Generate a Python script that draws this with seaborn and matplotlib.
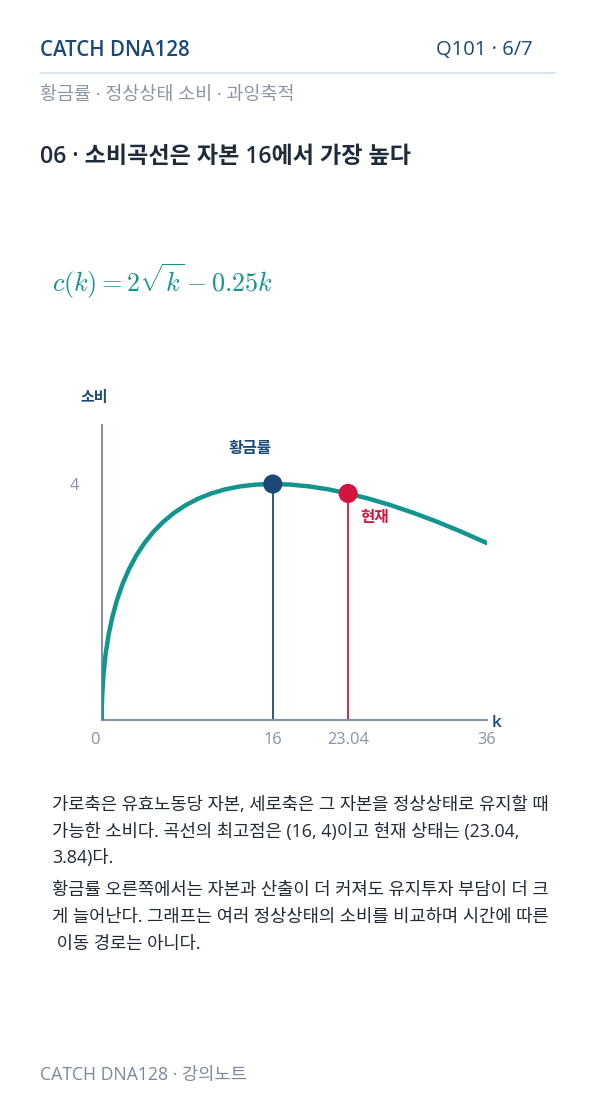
import matplotlib
matplotlib.use("Agg")
import matplotlib.pyplot as plt
import matplotlib.transforms as mtransforms
import seaborn as sns
import pandas as pd

# ---- data ----
k_vals = [0, 0.01, 0.04, 0.16, 0.36, 0.64, 1.0, 1.44, 1.96, 2.56, 3.24, 4.0, 4.84, 5.76,
          6.76, 7.84, 9.0, 10.24, 11.56, 12.96, 14.44, 16.0, 17.64, 19.36, 21.16,
          23.04, 25.0, 27.04, 29.16, 31.36, 33.64, 36.0]
c_vals = [0, 0.1975, 0.39, 0.76, 1.11, 1.44, 1.75, 2.04, 2.31, 2.56, 2.79, 3.0, 3.19, 3.36,
          3.51, 3.64, 3.75, 3.84, 3.91, 3.96, 3.99, 4.0, 3.99, 3.96, 3.91,
          3.84, 3.75, 3.64, 3.51, 3.36, 3.19, 3.0]
point_names = ["황금률", "현재"]
point_k = [16, 23.04]
point_c = [4.0, 3.84]
x_ticks = [0, 16, 23.04, 36]
x_tick_labels = ["0", "16", "23.04", "36"]
y_ticks = [4]
y_tick_labels = ["4"]

NAVY = "#1c4a78"
RED = "#d3163f"
TEAL = "#12948f"
AXIS = "#8592a2"
GRAY = "#8593a3"

sns.set_theme(style="white")
FAM = ["Open Sans", "Noto Sans CJK KR", "DejaVu Sans"]
plt.rcParams["font.family"] = FAM
plt.rcParams["mathtext.fontset"] = "cm"

W, H = 596, 1106
fig = plt.figure(figsize=(W / 100, H / 100), dpi=100)
fig.patch.set_facecolor("white")

def fx(x):
    return x / W

def fy(y):
    return 1 - y / H

# header
fig.text(fx(40), fy(50), "CATCH DNA128", color=NAVY, fontsize=14.8, fontweight="semibold", va="center", ha="left")
fig.text(fx(533), fy(50), "Q101 · 6/7", color=NAVY, fontsize=14.5, va="center", ha="right")
fig.add_artist(plt.Line2D([fx(40), fx(555)], [fy(73), fy(73)], color="#cfe0ef", lw=1.2))
fig.text(fx(40), fy(95), "황금률 · 정상상태 소비 · 과잉축적", color="#8a96a3", fontsize=13.3, va="center", ha="left")
fig.text(fx(40), fy(157), "06 · 소비곡선은 자본 16에서 가장 높다", color="#1d2b3a", fontsize=16.6, fontweight="semibold", va="center", ha="left")

# formula
fig.text(fx(52), fy(281), r"$c(k) = 2\sqrt{k} - 0.25k$", color=TEAL, fontsize=18.8, va="center", ha="left")

# chart axes
x0, x1 = 101.7, 486.7
y0, y1 = 720, 425
ax = fig.add_axes([fx(x0), fy(y0), (x1 - x0) / W, (y0 - y1) / H])
ax.set_facecolor("none")

df = pd.DataFrame({"k": k_vals, "c": c_vals})
sns.lineplot(data=df, x="k", y="c", ax=ax, color=TEAL, lw=3.2, sort=False, estimator=None, zorder=3)

ax.vlines(point_k[0], 0, point_c[0], color=NAVY, lw=1.3, zorder=2)
ax.vlines(point_k[1], 0, point_c[1], color=RED, lw=1.3, zorder=2)

pts = pd.DataFrame({"name": point_names, "k": point_k, "c": point_c})
sns.scatterplot(data=pts, x="k", y="c", hue="name", palette=[NAVY, RED], s=190,
                edgecolor="none", ax=ax, legend=False, zorder=5, clip_on=False)

ax.text(13.9, 4.6, point_names[0], color=NAVY, fontsize=11.3, fontweight="bold", ha="center", va="center")
ax.text(25.5, 3.42, point_names[1], color=RED, fontsize=11.3, fontweight="bold", ha="center", va="center")

ax.set_xlim(0, 36)
ax.set_ylim(0, 5)
for s in ["top", "right"]:
    ax.spines[s].set_visible(False)
for s in ["left", "bottom"]:
    ax.spines[s].set_color(AXIS)
    ax.spines[s].set_linewidth(1.5)
ax.set_xticks(x_ticks)
ax.set_xticklabels(x_tick_labels)
ax.set_yticks(y_ticks)
ax.set_yticklabels(y_tick_labels)
ax.tick_params(axis="x", direction="inout", length=9, width=1.2, color=AXIS, labelcolor=GRAY, labelsize=11.8, pad=4)
ax.tick_params(axis="y", direction="out", length=5, width=1.2, color=AXIS, labelcolor=GRAY, labelsize=11.8, pad=11)
ax.set_xlabel("")
ax.set_ylabel("")
# the "0" label sits a little left of its tick in the reference
lab0 = ax.get_xticklabels()[0]
lab0.set_transform(lab0.get_transform() + mtransforms.ScaledTranslation(-7 / 100, 0, fig.dpi_scale_trans))

fig.text(fx(497), fy(723), "k", color=NAVY, fontsize=12.5, fontweight="semibold", va="center", ha="center")
fig.text(fx(94), fy(398), "소비", color=NAVY, fontsize=10.8, fontweight="bold", va="center", ha="center")

# body text
body_lines = [
    (805, "가로축은 유효노동당 자본, 세로축은 그 자본을 정상상태로 유지할 때"),
    (832, "가능한 소비다. 곡선의 최고점은 (16, 4)이고 현재 상태는 (23.04,"),
    (858, "3.84)다."),
    (890, "황금률 오른쪽에서는 자본과 산출이 더 커져도 유지투자 부담이 더 크"),
    (917, "게 늘어난다. 그래프는 여러 정상상태의 소비를 비교하며 시간에 따른"),
    (944, " 이동 경로는 아니다."),
]
for y, t in body_lines:
    fig.text(fx(52), fy(y), t, color="#1f2a36", fontsize=12.75, fontweight="medium", va="center", ha="left")

fig.text(fx(40), fy(1075), "CATCH DNA128 · 강의노트", color="#7b8a9a", fontsize=12.7, va="center", ha="left")

fig.savefig("out.png", dpi=100, facecolor="white")
